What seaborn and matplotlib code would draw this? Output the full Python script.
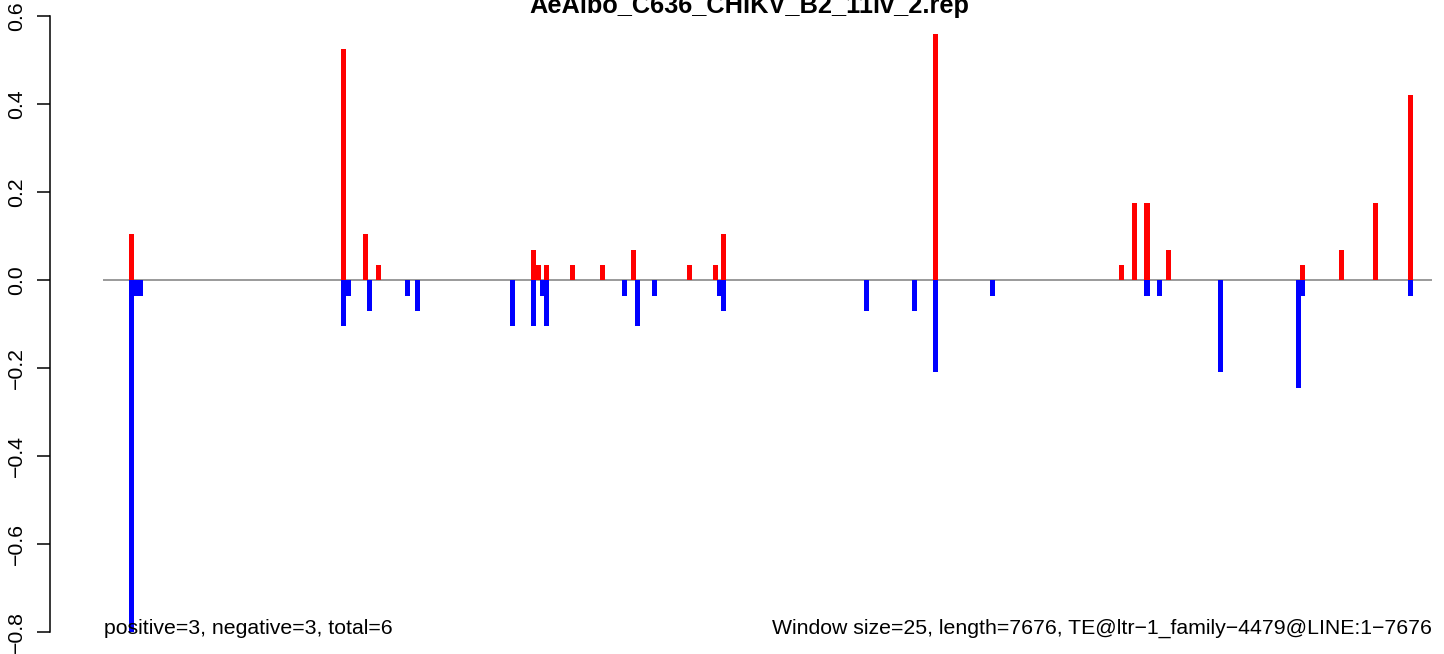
import numpy as np
import pandas as pd
import matplotlib
matplotlib.use("Agg")
import matplotlib.pyplot as plt
import seaborn as sns

# window starts (bp) and scores
pos_starts = [150, 1375, 1500, 1575, 2470, 2500, 2545, 2695, 2870, 3050, 3370,
              3525, 3570, 4795, 5865, 5940, 6015, 6140, 6915, 7140, 7335, 7540]
pos_values = [0.105, 0.526, 0.105, 0.034, 0.069, 0.034, 0.034, 0.034, 0.034, 0.069, 0.034,
              0.034, 0.105, 0.56, 0.034, 0.174, 0.174, 0.069, 0.034, 0.069, 0.174, 0.42]

neg_starts = [150, 175, 200, 1375, 1400, 1525, 1745, 1800, 2350, 2470, 2520, 2545,
              2995, 3070, 3170, 3545, 3570, 4395, 4670, 4795, 5120, 6015, 6090,
              6440, 6890, 6915, 7540]
neg_values = [-0.80, -0.036, -0.036, -0.105, -0.036, -0.071, -0.036, -0.071, -0.105, -0.105, -0.036, -0.105,
              -0.036, -0.105, -0.036, -0.036, -0.071, -0.071, -0.071, -0.21, -0.036, -0.036, -0.036,
              -0.21, -0.246, -0.036, -0.036]

seq_length = 7676
window = 25
title = "AeAlbo_C636_CHIKV_B2_11lv_2.rep"
left_note = "positive=3, negative=3, total=6"
right_note = "Window size=25, length=7676, TE@ltr\u22121_family\u22124479@LINE:1\u22127676"
yticks = [-0.8, -0.6, -0.4, -0.2, 0.0, 0.2, 0.4, 0.6]

sns.set_style("white")
plt.rcParams["font.family"] = ["Liberation Sans", "DejaVu Sans"]
plt.rcParams["text.color"] = "black"
plt.rcParams["ytick.color"] = "black"
plt.rcParams["ytick.labelcolor"] = "black"

W, H = 1444, 654
fig = plt.figure(figsize=(W / 100, H / 100), dpi=100)
ax = fig.add_axes([50 / W, 0, (W - 50) / W, 1])

bar_bp = 29  # bar width in bp (slightly wider than a window, like the original)


def draw(starts, values, color):
    starts = np.asarray(starts, dtype=float)
    df = pd.DataFrame({"x": starts + bar_bp / 2, "y": values})
    step = np.diff(np.sort(df["x"].unique())).min()
    sns.barplot(data=df, x="x", y="y", native_scale=True, color=color,
                width=bar_bp / step, errorbar=None, linewidth=0,
                saturation=1, ax=ax, zorder=3)


ax.hlines(0, 0, seq_length, color="#7f7f7f", lw=1.1, zorder=1)
draw(pos_starts, pos_values, "#ff0000")
draw(neg_starts, neg_values, "#0000ff")

# pixel mapping: 0 bp -> x=103.3 px, 7676 bp -> x=1432 px
px_per_bp = (1432 - 103.3) / seq_length
ax.set_xlim(-(103.3 - 50) / px_per_bp, (W - 103.3) / px_per_bp)
ax.set_ylim(-(H - 280) / 440, 280 / 440)

for s in ["top", "right", "bottom"]:
    ax.spines[s].set_visible(False)
ax.spines["left"].set_bounds(-0.8, 0.6)
ax.spines["left"].set_linewidth(1.1)
ax.spines["left"].set_color("black")
ax.set_xticks([])
ax.set_yticks(yticks)
ax.set_yticklabels([f"{t:.1f}".replace("-", "\u2212") for t in yticks],
                   rotation=90, va="center", fontsize=15.3, color="black")
ax.tick_params(axis="y", direction="out", length=9.4, width=1.1, pad=8,
               left=True, color="black")
ax.set_xlabel("")
ax.set_ylabel("")

fig.text(749 / W, 1 - 12.5 / H, title, ha="center", va="baseline",
         fontsize=18.3, fontweight="bold", color="black")
fig.text(104 / W, 1 - 633.5 / H, left_note, ha="left", va="baseline",
         fontsize=15.3, color="black")
fig.text(1432 / W, 1 - 633.5 / H, right_note, ha="right", va="baseline",
         fontsize=15.3, color="black")

fig.savefig("out.png", dpi=100)
